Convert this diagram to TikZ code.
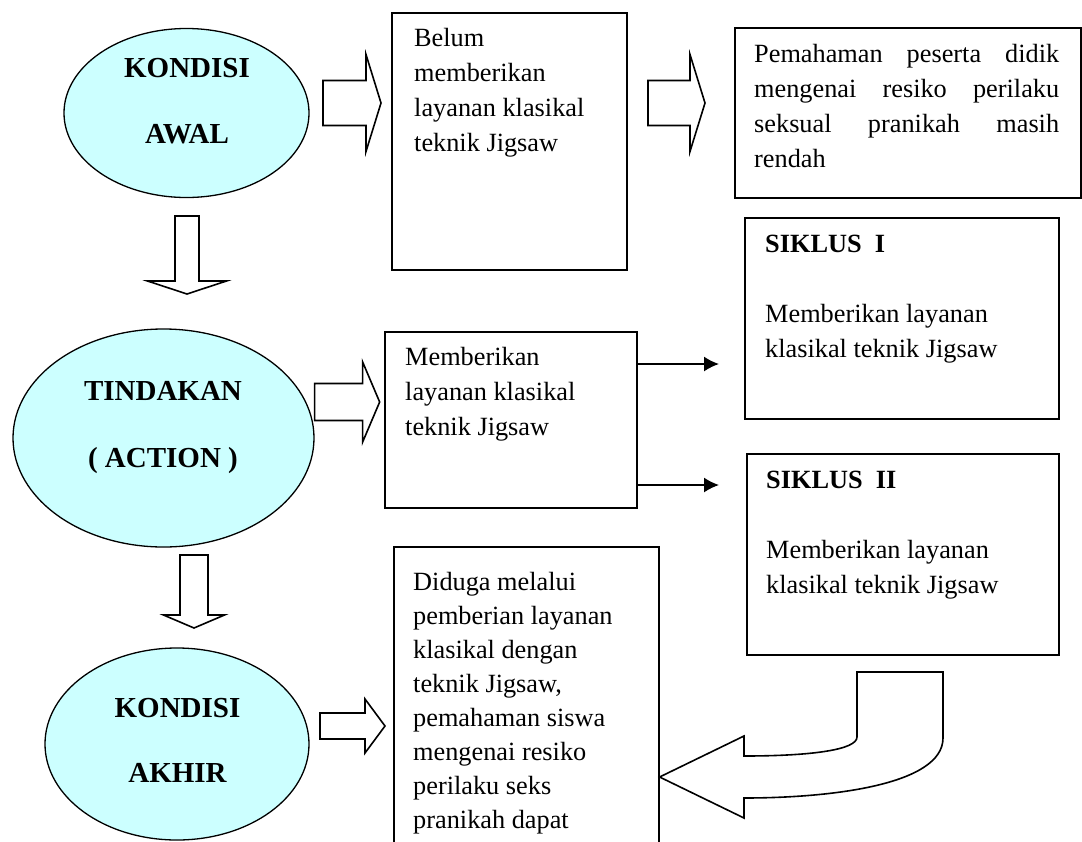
\documentclass[tikz,border=0pt]{standalone}
\usepackage{fontspec}
\setmainfont{Liberation Serif}
\usetikzlibrary{shapes.geometric, arrows.meta, positioning}
\definecolor{OVAL}{HTML}{CCFFFF}
\tikzset{
  OVAL/.style={% Style for the condition ovals
      ellipse, draw=black, line width=1.3pt,
      fill=OVAL, inner sep=0pt
  },
  BOX/.style={% Style for the text frames
      rectangle, draw=black, line width=1.6pt,
      anchor=north west, inner sep=0pt
  },
  TXT/.style={anchor=base west, inner sep=0pt, font=\fontsize{26.3}{35}\selectfont},
  HEAD/.style={anchor=base, inner sep=0pt, font=\fontsize{29}{35}\selectfont\bfseries},
  BLK/.style={draw=black, line width=1.6pt, fill=white, line join=miter},
  LINE/.style={line width=1.6pt, -{Latex[length=15pt,width=15pt]}}
}
% block arrow to the right: (start) length head-length shaft-half head-half
\def\rarrow(#1)#2#3#4#5{%
  \draw[BLK] (#1) ++(0,-#4) -- ++(#2-#3,0) -- ++(0,#4-#5) -- ++(#3,#5)
     -- ++(-#3,#5) -- ++(0,#4-#5) -- ++(#3-#2,0) -- cycle;
}
% block arrow downwards: (start) length head-length shaft-half head-half
\def\darrow(#1)#2#3#4#5{%
  \draw[BLK] (#1) ++(-#4,0) -- ++(0,#2-#3) -- ++(#4-#5,0) -- ++(#5,#3)
     -- ++(#5,-#3) -- ++(#4-#5,0) -- ++(0,#3-#2) -- cycle;
}
\begin{document}
\begin{tikzpicture}[x=1pt, y=-1pt]
  \useasboundingbox (0,0) rectangle (1082,841);
  \clip (0,0) rectangle (1082,841);

  % ovals
  \node[OVAL, minimum width=245pt, minimum height=169pt] (awal) at (186.5,113) {};
  \node[OVAL, minimum width=301pt, minimum height=218pt] (tindakan) at (163.5,438) {};
  \node[OVAL, minimum width=264pt, minimum height=192pt] (akhir) at (177,744) {};
  \node[HEAD] (awal1) at (187,77) {KONDISI};
  \node[HEAD] (awal2) at (187,143) {AWAL};
  \node[HEAD] (tindakan1) at (163,400) {TINDAKAN};
  \node[HEAD] (tindakan2) at (163,467) {( ACTION )};
  \node[HEAD] (akhir1) at (177.5,717) {KONDISI};
  \node[HEAD] (akhir2) at (177.5,782) {AKHIR};

  % frames
  \node[BOX, minimum width=235pt, minimum height=257pt] (belum) at (391,12) {};
  \node[BOX, minimum width=346pt, minimum height=170pt] (paham) at (734,27) {};
  \node[BOX, minimum width=314pt, minimum height=201pt] (siklusI) at (744,217) {};
  \node[BOX, minimum width=252pt, minimum height=176pt] (beri) at (384,331) {};
  \node[BOX, minimum width=312pt, minimum height=201pt] (siklusII) at (746,453) {};
  \node[BOX, minimum width=265pt, minimum height=310pt] (duga) at (393,546) {};

  \node[TXT] (belumtxt) at (414,46) {\parbox[t]{210pt}{Belum\\memberikan\\layanan klasikal\\teknik Jigsaw}};
  \node[TXT] (pahamtxt) at (754,62) {\parbox[t]{305pt}{Pemahaman\hfill peserta\hfill didik\\
      mengenai\hfill resiko\hfill perilaku\\seksual\hfill pranikah\hfill masih\\rendah}};
  \node[TXT] (siklusItxt) at (765,252) {\parbox[t]{285pt}{\textbf{SIKLUS~~I}\\[35pt]Memberikan layanan\\klasikal teknik Jigsaw}};
  \node[TXT] (beritxt) at (405,365) {\parbox[t]{225pt}{Memberikan\\layanan klasikal\\teknik Jigsaw}};
  \node[TXT] (siklusIItxt) at (766,488) {\parbox[t]{285pt}{\textbf{SIKLUS~~II}\\[35pt]Memberikan layanan\\klasikal teknik Jigsaw}};
  \node[TXT, font=\fontsize{26.3}{34}\selectfont] (dugatxt) at (413,590) {\parbox[t]{240pt}{Diduga melalui\\pemberian layanan\\klasikal dengan\\teknik Jigsaw,\\
      pemahaman siswa\\mengenai resiko\\perilaku seks\\pranikah dapat}};

  % block arrows
  \coordinate (p1) at (323,103);
  \coordinate (p2) at (648,103);
  \coordinate (p3) at (tindakan.east |- 0,402);
  \coordinate (p4) at (320,726);
  \coordinate (q1) at (187,216);
  \coordinate (q2) at (194,555);
  \rarrow(p1){58}{15}{22.5}{48.5}
  \rarrow(p2){57}{15}{22.5}{48.5}
  \rarrow(p3){65}{17}{18.5}{40}
  \rarrow(p4){65}{20}{13}{27}
  \darrow(q1){78}{13}{12}{39.5}
  \darrow(q2){73}{13}{14}{30.5}

  % u-turn arrow back to the last frame
  \draw[BLK] (857,672) -- (943,672) -- (943,738)
     .. controls (943,785) and (830,798) .. (744,798) -- (744,818)
     -- (duga.east |- 0,777) -- (744,736) -- (744,756)
     .. controls (810,756) and (857,750) .. (857,737) -- cycle;

  % plain arrows to the cycles
  \coordinate (t1) at (719,364);
  \coordinate (t2) at (719,485);
  \draw[LINE] (beri.east |- t1) -- (t1);
  \draw[LINE] (beri.east |- t2) -- (t2);
\end{tikzpicture}
\end{document}
